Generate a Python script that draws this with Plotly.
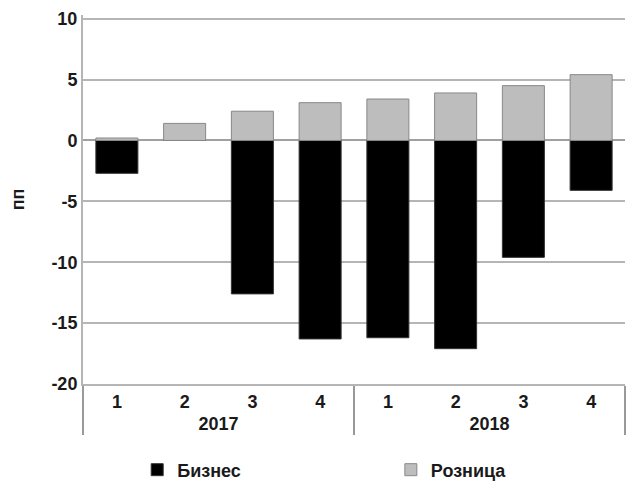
import plotly.graph_objects as go

years = ["2017", "2017", "2017", "2017", "2018", "2018", "2018", "2018"]
quarters = ["1", "2", "3", "4", "1", "2", "3", "4"]
business = [-2.7, 0.0, -12.6, -16.3, -16.2, -17.1, -9.6, -4.1]
retail = [0.2, 1.4, 2.4, 3.1, 3.4, 3.9, 4.5, 5.4]
ytick_vals = [-20, -15, -10, -5, 0, 5, 10]
ytick_text = ["-20", "-15", "-10", "-5", "0", "5", "10"]

x = [years, quarters]
fig = go.Figure()
fig.add_trace(go.Bar(x=x, y=business, name="Бизнес", legend="legend", showlegend=True,
                     marker=dict(color="#000000", line=dict(color="#333333", width=1))))
fig.add_trace(go.Bar(x=x, y=retail, name="Розница", legend="legend2", showlegend=True,
                     marker=dict(color="#bdbdbd", line=dict(color="#888888", width=1))))

font = dict(family="Liberation Sans, Arial, sans-serif", size=18, color="#1a1a1a", weight="bold")
leg = dict(orientation="h", y=-0.233, yanchor="middle", font=font, itemwidth=30,
           bgcolor="rgba(0,0,0,0)", visible=True)
fig.update_layout(
    width=637, height=489,
    showlegend=True,
    barmode="relative", bargap=0.38,
    plot_bgcolor="white", paper_bgcolor="white",
    margin=dict(l=75, r=20, t=7, b=113, autoexpand=False),
    font=font,
    legend=dict(leg, x=0.1, xanchor="left"),
    legend2=dict(leg, x=0.568, xanchor="left"),
    yaxis=dict(range=[-20, 10.3], tickvals=ytick_vals, ticktext=ytick_text,
               showgrid=True, gridcolor="#b5b5b5", gridwidth=2,
               zeroline=True, zerolinecolor="#a0a0a0", zerolinewidth=2,
               showline=True, linecolor="#b5b5b5", linewidth=2, automargin=False,
               ticklabeloverflow="allow",
               title=dict(text="пп", font=font, standoff=28),
               tickfont=font),
    xaxis=dict(type="multicategory", showline=True, linecolor="#b5b5b5", linewidth=2,
               showdividers=True, dividercolor="#999999", dividerwidth=1.5, automargin=False,
               tickfont=font),
)
fig.write_html("out.html")
